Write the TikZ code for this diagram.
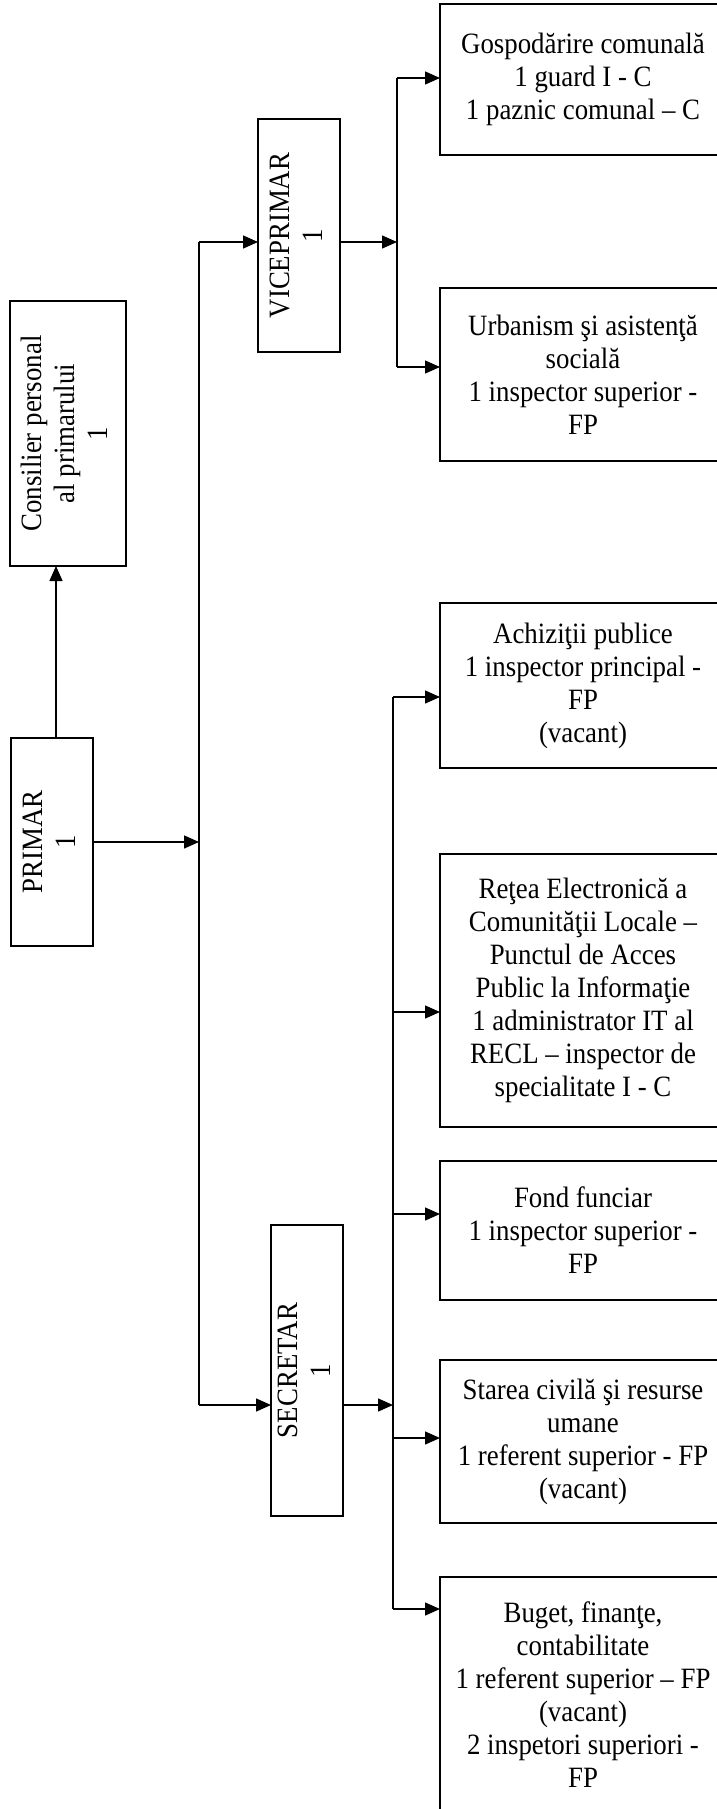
\documentclass[tikz,border=0pt]{standalone}
\usepackage{fontspec}
\setmainfont{Liberation Serif}[FakeStretch=0.91]
\usetikzlibrary{arrows.meta}
\begin{document}
\begin{tikzpicture}[x=1pt,y=-1pt,
  box/.style={draw, line width=1.5pt, inner sep=0pt, outer sep=0pt, align=center,
    font=\fontsize{29.5}{33}\selectfont},
  dept/.style={box, minimum width=286pt},
  arr/.style={line width=1.4pt, -{Triangle[length=15pt,width=13pt]}},
  bus/.style={line width=1.4pt}]
\useasboundingbox (0,0) rectangle (717,1809);
\clip (0,0) rectangle (717,1809);

% left column
\node[box, minimum width=116pt, minimum height=265pt] (cons) at (68,433.5)
  {\rotatebox{90}{\begin{tabular}{@{}c@{}}Consilier personal\\al primarului\\1\end{tabular}}};
\node[box, minimum width=82pt, minimum height=208pt] (primar) at (52,842)
  {\rotatebox{90}{\begin{tabular}{@{}c@{}}PRIMAR\\1\end{tabular}}};

% middle column
\node[box, minimum width=82pt, minimum height=233pt] (vice) at (299,235.5)
  {\rotatebox{90}{\begin{tabular}{@{}c@{}}VICEPRIMAR\\1\end{tabular}}};
\node[box, minimum width=72pt, minimum height=291pt] (secr) at (307,1370.5)
  {\rotatebox{90}{\begin{tabular}{@{}c@{}}SECRETAR\\1\end{tabular}}};

% right column
\node[dept, minimum height=151pt] (gosp) at (583,79.5)
  {Gospodărire comunală\\1 guard I - C\\1 paznic comunal – C};
\node[dept, minimum height=173pt] (urb) at (583,374.5)
  {Urbanism şi asistenţă\\socială\\1 inspector superior -\\FP};
\node[dept, minimum height=165pt] (achiz) at (583,685.5)
  {Achiziţii publice\\1 inspector principal -\\FP\\(vacant)};
\node[dept, minimum height=273pt] (retea) at (583,990.5)
  {Reţea Electronică a\\Comunităţii Locale –\\Punctul de Acces\\Public la Informaţie\\1 administrator IT al\\RECL – inspector de\\specialitate I - C};
\node[dept, minimum height=139pt] (fond) at (583,1230.5)
  {Fond funciar\\1 inspector superior -\\FP};
\node[dept, minimum height=163pt] (starea) at (583,1441.5)
  {Starea civilă şi resurse\\umane\\1 referent superior - FP\\(vacant)};
\node[dept, minimum height=236pt] (buget) at (583,1695)
  {Buget, finanţe,\\contabilitate\\1 referent superior – FP\\(vacant)\\2 inspetori superiori -\\FP};

% bus points
\coordinate (vtop) at (199,242);
\coordinate (vbot) at (199,1405);
\coordinate (ratop) at (397,78);
\coordinate (rabot) at (397,367);
\coordinate (rbtop) at (393,697);
\coordinate (rb2) at (393,1012);
\coordinate (rb3) at (393,1214);
\coordinate (rb4) at (393,1438);
\coordinate (rbbot) at (393,1609);

% connectors
\draw[arr] ([xshift=4pt]primar.north) -- ([xshift=4pt]primar.north |- cons.south);
\draw[arr] (primar.east) -- (primar.east -| vtop);
\draw[bus] (vtop) -- (vbot);
\draw[arr] (vtop) -- (vtop -| vice.west);
\draw[arr] (vbot) -- (vbot -| secr.west);

\draw[arr] (vtop -| vice.east) -- (vtop -| ratop);
\draw[bus] (ratop) -- (rabot);
\draw[arr] (ratop) -- (ratop -| gosp.west);
\draw[arr] (rabot) -- (rabot -| urb.west);

\draw[arr] (vbot -| secr.east) -- (vbot -| rbtop);
\draw[bus] (rbtop) -- (rbbot);
\draw[arr] (rbtop) -- (rbtop -| achiz.west);
\draw[arr] (rb2) -- (rb2 -| retea.west);
\draw[arr] (rb3) -- (rb3 -| fond.west);
\draw[arr] (rb4) -- (rb4 -| starea.west);
\draw[arr] (rbbot) -- (rbbot -| buget.west);
\end{tikzpicture}
\end{document}
